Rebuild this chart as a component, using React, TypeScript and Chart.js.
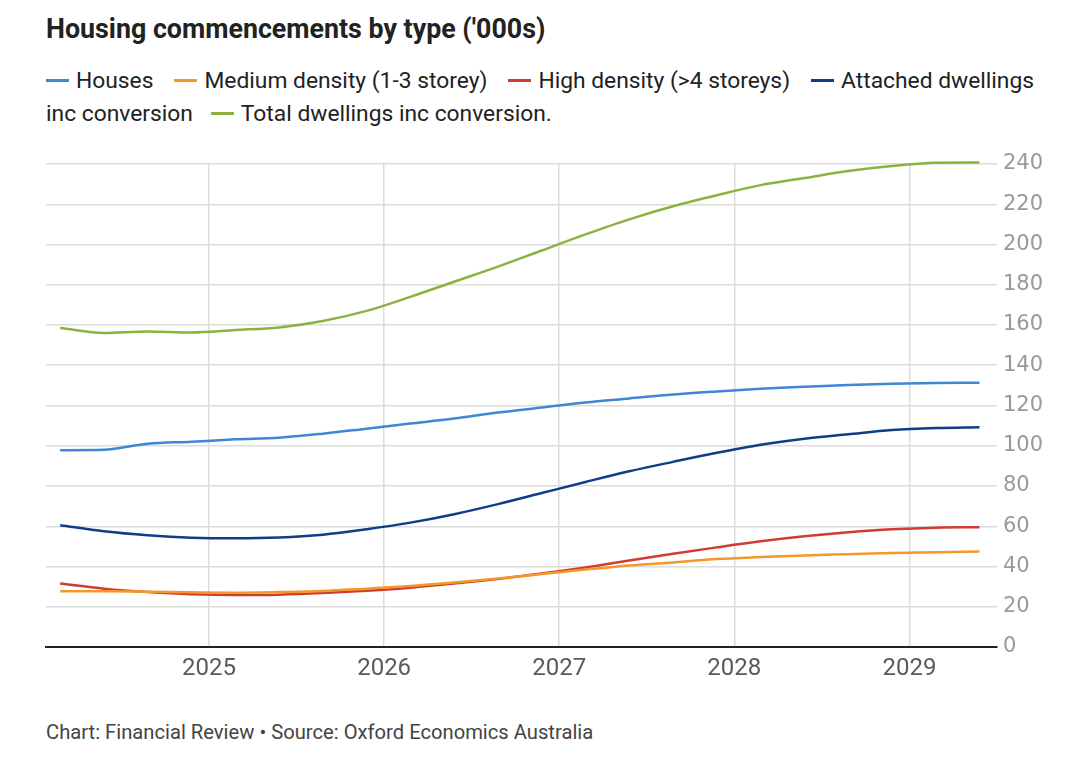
import React, { useEffect, useRef } from "react";
import { Chart, registerables } from "chart.js";

Chart.register(...registerables);

const periods = [
  2024.15, 2024.4, 2024.65, 2024.9, 2025.15, 2025.4, 2025.65, 2025.9,
  2026.15, 2026.4, 2026.65, 2026.9, 2027.15, 2027.4, 2027.65, 2027.9,
  2028.15, 2028.4, 2028.65, 2028.9, 2029.15, 2029.4,
];
const yearTicks = [2025, 2026, 2027, 2028, 2029];
const yTicks = [0, 20, 40, 60, 80, 100, 120, 140, 160, 180, 200, 220, 240];

const houses = [97.8, 98, 101, 102, 103.2, 104, 106, 108.5, 111, 113.5, 116.5, 119, 121.5, 123.5, 125.5, 127, 128.3, 129.3, 130.2, 130.8, 131.2, 131.3];
const medium = [27.7, 27.7, 27.5, 27.2, 27, 27.3, 27.8, 29, 30.3, 32, 34, 36.3, 38.5, 40.5, 42, 43.7, 44.7, 45.5, 46.1, 46.7, 47.1, 47.4];
const high = [31.5, 29, 27.3, 26.2, 25.8, 26, 26.8, 28, 29.5, 31.5, 33.8, 36.5, 39.5, 43, 46.3, 49.5, 52.5, 55, 57, 58.5, 59.3, 59.5];
const attached = [60.5, 57.5, 55.5, 54.3, 54, 54.4, 55.8, 58.5, 61.8, 66, 71, 76.5, 82, 87.3, 92, 96.5, 100.5, 103.5, 105.7, 107.8, 108.8, 109.2];
const total = [158.5, 156, 156.8, 156.3, 157.5, 158.8, 162, 167, 174, 181.5, 189, 197, 205, 212.5, 219, 224.5, 229.5, 233, 236.5, 239, 240.6, 240.8];

const seriesNames = [
  "Houses",
  "Medium density (1-3 storey)",
  "High density (>4 storeys)",
  "Attached dwellings inc conversion",
  "Total dwellings inc conversion.",
];
const seriesColors = ["#3f86d4", "#f3992b", "#d03c31", "#0f3e86", "#8cb23e"];
const seriesData = [houses, medium, high, attached, total];

const FONT = "Roboto, 'Noto Sans', sans-serif";

function Marker({ color }: { color: string }) {
  return (
    <span
      style={{
        display: "inline-block",
        width: 23,
        height: 3,
        background: color,
        verticalAlign: "middle",
        marginRight: 7,
        position: "relative",
        top: -1,
      }}
    />
  );
}

export default function App() {
  const ref = useRef<HTMLCanvasElement | null>(null);

  useEffect(() => {
    if (!ref.current) return;
    const chart = new Chart(ref.current, {
      type: "line",
      data: {
        datasets: seriesData.map((arr, i) => ({
          label: seriesNames[i],
          data: arr.map((v, j) => ({ x: periods[j], y: v })),
          borderColor: seriesColors[i],
          backgroundColor: seriesColors[i],
          borderWidth: 2.5,
          pointRadius: 0,
          cubicInterpolationMode: "monotone" as const,
          clip: false as any,
          fill: false,
        })),
      },
      options: {
        animation: false,
        responsive: false,
        maintainAspectRatio: false,
        layout: { padding: { left: 46, right: 0, top: 22, bottom: 0 } },
        plugins: { legend: { display: false }, tooltip: { enabled: false } },
        scales: {
          x: {
            type: "linear",
            min: 2024.069,
            max: 2029.5,
            afterBuildTicks: (s: any) => {
              s.ticks = yearTicks.map((v) => ({ value: v }));
            },
            afterFit: (s: any) => {
              s.height = 55;
            },
            ticks: {
              callback: (v: any) => String(v),
              color: "#5a5a5a",
              font: { family: FONT, size: 24 },
              padding: 8,
              maxRotation: 0,
            },
            grid: { color: "#dcdcdc", lineWidth: 1.5, drawTicks: false },
            border: { display: true, color: "#222", width: 2 },
          },
          y: {
            position: "right",
            min: 0,
            max: 240,
            afterBuildTicks: (s: any) => {
              s.ticks = yTicks.map((v) => ({ value: v }));
            },
            afterFit: (s: any) => {
              s.width = 83;
            },
            ticks: {
              color: "#999",
              font: { family: "'DejaVu Sans', sans-serif", size: 21 },
              padding: 6,
            },
            grid: { color: "#dcdcdc", lineWidth: 1.5, drawTicks: false },
            border: { display: false },
          },
        },
      },
    });
    return () => chart.destroy();
  }, []);

  return (
    <div
      style={{
        position: "absolute",
        left: 0,
        top: 0,
        width: 1080,
        height: 770,
        background: "#fff",
        fontFamily: FONT,
        color: "#222",
      }}
    >
      <div
        style={{
          position: "absolute",
          left: 46,
          top: 13,
          fontSize: 26.8,
          fontWeight: 700,
          color: "#222",
          whiteSpace: "nowrap",
        }}
      >
        Housing commencements by type ('000s)
      </div>
      <div
        style={{
          position: "absolute",
          left: 46,
          top: 64,
          width: 1034,
          fontSize: 22.8,
          lineHeight: "33px",
          color: "#222",
          whiteSpace: "nowrap",
        }}
      >
        <span style={{ marginRight: 21 }}>
          <Marker color={seriesColors[0]} />
          {seriesNames[0]}
        </span>
        <span style={{ marginRight: 21 }}>
          <Marker color={seriesColors[1]} />
          {seriesNames[1]}
        </span>
        <span style={{ marginRight: 21 }}>
          <Marker color={seriesColors[2]} />
          {seriesNames[2]}
        </span>
        <span style={{ marginRight: 18 }}>
          <Marker color={seriesColors[3]} />
          Attached dwellings
          <br />
          inc conversion
        </span>
        <span>
          <Marker color={seriesColors[4]} />
          {seriesNames[4]}
        </span>
      </div>
      <canvas
        ref={ref}
        width={1080}
        height={560}
        style={{ position: "absolute", left: 0, top: 142, width: 1080, height: 560 }}
      />
      <div
        style={{
          position: "absolute",
          left: 46,
          top: 720,
          fontSize: 20.2,
          color: "#444",
          whiteSpace: "nowrap",
        }}
      >
        Chart: Financial Review • Source: Oxford Economics Australia
      </div>
    </div>
  );
}
